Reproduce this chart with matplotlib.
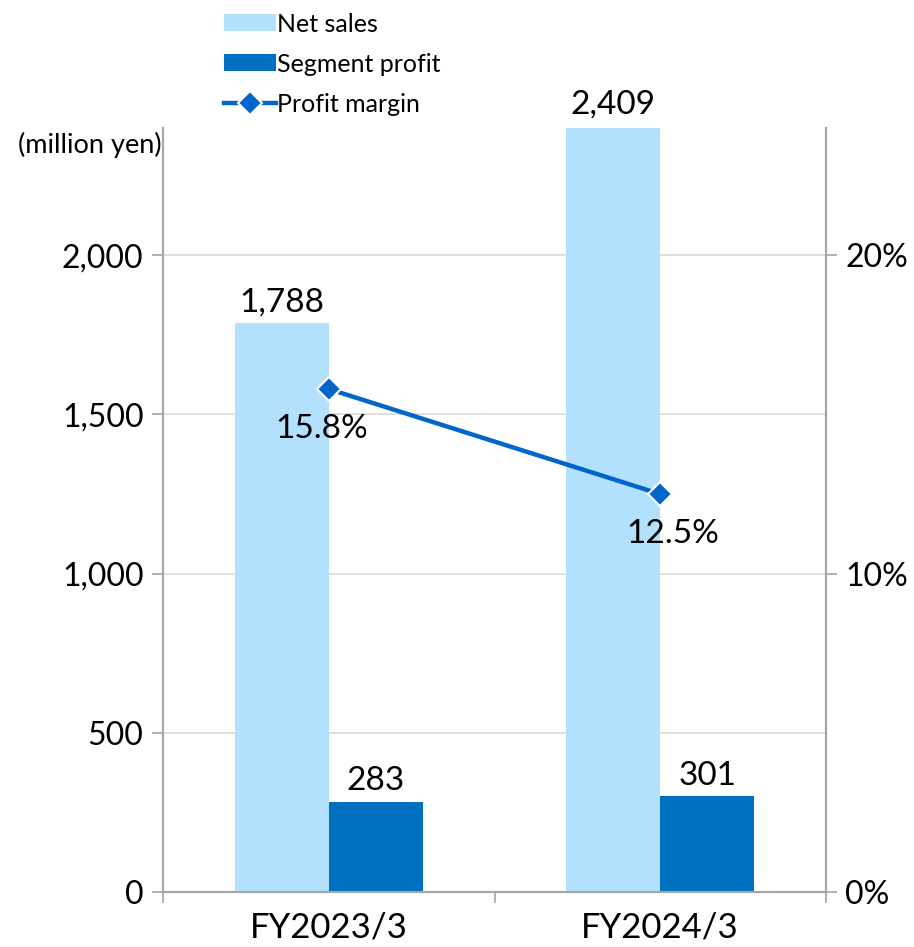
import matplotlib
matplotlib.use("Agg")
import matplotlib.pyplot as plt
from matplotlib.ticker import FuncFormatter
import numpy as np

plt.rcParams["font.family"] = ["Lato", "DejaVu Sans"]

categories = ["FY2023/3", "FY2024/3"]
net_sales = [1788, 2409]
segment_profit = [283, 301]
profit_margin = [15.8, 12.5]

LIGHT = "#B3E0FC"
DARK = "#0070C0"
LINE = "#0066CC"
GRID = "#D9D9D9"
SPINE = "#A6A6A6"

fig = plt.figure(figsize=(9.14, 9.47), dpi=100)
ax = fig.add_axes([163 / 914, 1 - 892 / 947, 663 / 914, 764 / 947])
ax2 = ax.twinx()

x = np.arange(len(categories))
w = 0.283
b1 = ax.bar(x - w / 2, net_sales, w, color=LIGHT, label="Net sales", zorder=2)
b2 = ax.bar(x + w / 2, segment_profit, w, color=DARK, label="Segment profit", zorder=2)

ax.set_xlim(-0.5, len(categories) - 0.5)
ax.set_ylim(0, 2400)
ax.set_yticks([0, 500, 1000, 1500, 2000])
ax.yaxis.set_major_formatter(FuncFormatter(lambda v, p: f"{v:,.0f}"))
ax.grid(axis="y", color=GRID, lw=1.2, zorder=0)
ax.set_axisbelow(True)

ax.set_xticks(x)
ax.set_xticklabels(categories)
ax.set_xticks([-0.5, 0.5, 1.5], minor=True)
ax.tick_params(axis="x", which="major", length=0, pad=14, labelsize=25)
ax.tick_params(axis="x", which="minor", length=8, width=1.2, color=SPINE, direction="out")
ax.tick_params(axis="y", length=8, width=1.2, color=SPINE, labelsize=23, pad=6)

ax2.set_ylim(0, 24)
ax2.set_yticks([0, 10, 20])
ax2.yaxis.set_major_formatter(FuncFormatter(lambda v, p: f"{v:.0f}%"))
ax2.tick_params(axis="y", length=8, width=1.2, color=SPINE, labelsize=23, pad=6)

for a in (ax, ax2):
    a.spines["top"].set_visible(False)
    for s in ("left", "right", "bottom"):
        a.spines[s].set_color(SPINE)
        a.spines[s].set_linewidth(1.5)

ln, = ax2.plot(x, profit_margin, color=LINE, lw=3.2, marker="D", ms=12,
               mfc=LINE, mec="white", mew=1.5, label="Profit margin", zorder=3)

# value labels
for xi, v in zip(x - w / 2, net_sales):
    ax.annotate(f"{v:,}", (xi, v), xytext=(0, 4), textcoords="offset points",
                ha="center", va="bottom", fontsize=24, annotation_clip=False)
for xi, v in zip(x + w / 2, segment_profit):
    ax.annotate(f"{v:,}", (xi, v), xytext=(0, 4), textcoords="offset points",
                ha="center", va="bottom", fontsize=24)
for xi, v, dx in zip(x, profit_margin, [-5, 9]):
    ax2.annotate(f"{v}%", (xi, v), xytext=(dx, -18), textcoords="offset points",
                 ha="center", va="top", fontsize=24)

fig.text(18 / 914, 1 - 145 / 947, "(million yen)", fontsize=19.5, va="center", ha="left")

fig.legend(handles=[b1, b2, ln], loc="upper left",
           bbox_to_anchor=(211 / 914, 1.0), frameon=False, fontsize=18,
           handlelength=2.1, handletextpad=0.05, labelspacing=0.68,
           borderaxespad=0.1)

fig.savefig("out.png", dpi=100)
